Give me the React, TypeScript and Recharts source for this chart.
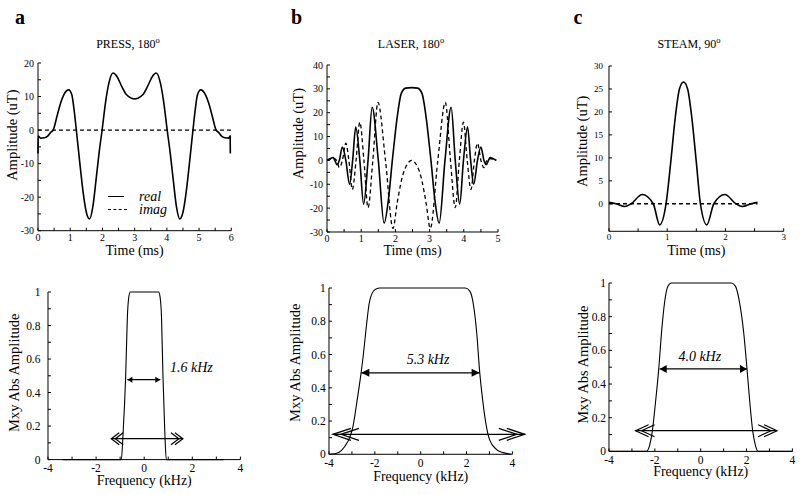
import { LineChart, Line, XAxis, YAxis, ReferenceLine, ReferenceDot, Legend } from 'recharts'
import type { ReactNode } from 'react'

type Pt = [number, number]

// ---- top row: RF pulse shapes (time in ms, amplitude in uT) ----
const pressReal: Pt[] = [
  [0, -7], [0.005, -1.8], [0.08, -2.4], [0.2, -2.3], [0.3, -1.8], [0.4, -0.6], [0.47, 0], [0.6, 4.5], [0.7, 8],
  [0.8, 10.5], [0.95, 12], [1.05, 10.5], [1.12, 6], [1.19, 0], [1.3, -10], [1.4, -18.5], [1.5, -24.5], [1.6, -26.5],
  [1.7, -23], [1.8, -15], [1.9, -6.5], [1.99, 0], [2.1, 8.5], [2.2, 14], [2.33, 17], [2.45, 16], [2.6, 13],
  [2.75, 10.5], [2.9, 9.5], [3.0, 9.3], [3.1, 9.5], [3.25, 10.5], [3.4, 13], [3.55, 16], [3.67, 17], [3.8, 14],
  [3.9, 8.5], [4.01, 0], [4.1, -6.5], [4.2, -15], [4.3, -23], [4.4, -26.5], [4.5, -24.5], [4.6, -18.5], [4.7, -10],
  [4.81, 0], [4.88, 6], [4.95, 10.5], [5.05, 12], [5.2, 10.5], [5.3, 8], [5.4, 4.5], [5.53, 0], [5.6, -0.6],
  [5.7, -1.8], [5.8, -2.3], [5.92, -2.4], [5.965, -1.8], [5.97, -7],
]
const pressImag: Pt[] = [[0, 0], [6, 0]]

const laserReal: Pt[] = [
  [0, 0], [0.1, 0.8], [0.18, 1.2], [0.23, 0], [0.29, -1.8], [0.36, 0], [0.45, 5.6], [0.55, 0], [0.66, -10],
  [0.75, 0], [0.84, 14], [0.96, 0], [1.07, -18.3], [1.2, 0], [1.32, 22.3], [1.5, 0], [1.67, -26.3], [1.8, -16],
  [1.91, 0], [2.0, 12], [2.08, 21], [2.17, 28], [2.3, 30.3], [2.475, 30.5], [2.65, 30.3], [2.78, 28], [2.87, 21],
  [2.95, 12], [3.04, 0], [3.15, -16], [3.28, -26.3], [3.45, 0], [3.63, 22.3], [3.75, 0], [3.88, -18.3], [3.99, 0],
  [4.11, 14], [4.2, 0], [4.29, -10], [4.4, 0], [4.5, 5.6], [4.59, 0], [4.66, -1.8], [4.72, 0], [4.77, 1.2],
  [4.85, 0.8], [4.95, 0],
]
const laserImag: Pt[] = [
  [0, 0], [0.2, 0.8], [0.28, 0], [0.36, -3], [0.45, 0], [0.55, 7.2], [0.64, 0], [0.74, -12.2], [0.85, 0],
  [0.96, 16], [1.08, 0], [1.2, -19.8], [1.34, 0], [1.49, 24.3], [1.71, 0], [1.93, -28.5], [2.05, -18], [2.2, -7],
  [2.35, -1.5], [2.475, 0], [2.6, -1.5], [2.75, -7], [2.9, -18], [3.02, -28.5], [3.24, 0], [3.46, 24.3], [3.61, 0],
  [3.75, -19.8], [3.87, 0], [3.99, 16], [4.1, 0], [4.21, -12.2], [4.31, 0], [4.4, 7.2], [4.5, 0], [4.59, -3],
  [4.67, 0], [4.75, 0.8], [4.95, 0],
]

const steamReal: Pt[] = [
  [0, 0.3], [0.12, 0], [0.27, -0.6], [0.38, 0], [0.57, 2], [0.76, 0], [0.87, -4.6], [0.98, 0], [1.06, 9],
  [1.14, 19], [1.21, 25], [1.28, 26.5], [1.35, 25], [1.42, 19], [1.5, 9], [1.57, 0], [1.68, -4.6], [1.8, 0],
  [1.99, 2], [2.18, 0], [2.29, -0.6], [2.44, 0], [2.55, 0.3],
]
const steamImag: Pt[] = [[0, 0], [2.55, 0]]

// ---- bottom row: slice profiles (frequency in kHz, |Mxy|) ----
const pressProfile: Pt[] = [
  [-3.4, 0], [-0.95, 0], [-0.88, 0.15], [-0.77, 0.5], [-0.7, 0.85], [-0.64, 0.97], [-0.58, 1], [0.6, 1],
  [0.66, 0.97], [0.72, 0.85], [0.78, 0.5], [0.86, 0.15], [0.92, 0], [3.3, 0],
]
const laserProfile: Pt[] = [
  [-3.95, 0], [-3.6, 0.01], [-3.3, 0.05], [-3.1, 0.1], [-2.95, 0.17], [-2.8, 0.3], [-2.6, 0.49], [-2.5, 0.6],
  [-2.37, 0.77], [-2.23, 0.92], [-2.0, 0.99], [-1.8, 1], [1.95, 1], [2.15, 0.98], [2.3, 0.9], [2.45, 0.72],
  [2.57, 0.5], [2.7, 0.33], [2.85, 0.18], [3.0, 0.09], [3.3, 0.03], [3.6, 0.01], [3.95, 0],
]
const steamProfile: Pt[] = [
  [-4, 0], [-2.37, 0], [-2.22, 0.04], [-2.11, 0.12], [-1.98, 0.28], [-1.83, 0.49], [-1.7, 0.72], [-1.57, 0.89],
  [-1.43, 0.98], [-1.28, 1], [1.34, 1], [1.52, 0.98], [1.7, 0.88], [1.88, 0.7], [2.02, 0.49], [2.15, 0.28],
  [2.27, 0.12], [2.38, 0.04], [2.5, 0], [4, 0],
]

// bandwidth arrows (endpoints) and the text notes
const pressFwhm: Pt[] = [[-0.7, 0.477], [0.67, 0.477]]
const pressSpan: Pt[] = [[-1.37, 0.125], [1.61, 0.125]]
const laserFwhm: Pt[] = [[-2.59, 0.49], [2.57, 0.49]]
const laserSpan: Pt[] = [[-3.83, 0.12], [4.54, 0.12]]
const steamFwhm: Pt[] = [[-1.79, 0.49], [2.02, 0.49]]
const steamSpan: Pt[] = [[-2.84, 0.123], [3.33, 0.123]]
const notePos: Pt[] = [[1.96, 0.55], [0.32, 0.575], [-0.04, 0.568]]
const noteText = ['1.6 kHz', '5.3 kHz', '4.0 kHz']
const legendOrder = ['real', 'imag']

// ---- ticks ----
const time6Ticks = [0, 0.5, 1, 1.5, 2, 2.5, 3, 3.5, 4, 4.5, 5, 5.5, 6]
const time6Major = [0, 1, 2, 3, 4, 5, 6]
const time5Ticks = [0, 0.5, 1, 1.5, 2, 2.5, 3, 3.5, 4, 4.5, 5]
const time5Major = [0, 1, 2, 3, 4, 5]
const time3Ticks = [0, 0.5, 1, 1.5, 2, 2.5, 3]
const time3Major = [0, 1, 2, 3]
const ampTicksA = [-30, -25, -20, -15, -10, -5, 0, 5, 10, 15, 20]
const ampMajorA = [-30, -20, -10, 0, 10, 20]
const ampTicksB = [-30, -25, -20, -15, -10, -5, 0, 5, 10, 15, 20, 25, 30, 35, 40]
const ampMajorB = [-30, -20, -10, 0, 10, 20, 30, 40]
const ampTicksC = [0, 5, 10, 15, 20, 25, 30]
const freqTicks = [-4, -3, -2, -1, 0, 1, 2, 3, 4]
const freqMajor = [-4, -2, 0, 2, 4]
const magTicks = [0, 0.1, 0.2, 0.3, 0.4, 0.5, 0.6, 0.7, 0.8, 0.9, 1]
const magMajor = [0, 0.2, 0.4, 0.6, 0.8, 1]

const SERIF = "'Liberation Serif', 'Times New Roman', serif"
const YW = 50
const MT = 10
const LABEL_PAD = 8

const rows = (pts: Pt[]) => pts.map(([t, v]) => ({ t, v }))
const only = (majors: number[]) => (v: number) => (majors.includes(v) ? String(v) : '')

interface Box { x: number; y: number; w: number; h: number; xh: number; mr: number }

function Panel(props: {
  box: Box; xDomain: [number, number]; yDomain: [number, number]
  xTicks: number[]; xMajor: number[]; yTicks: number[]; yMajor: number[]
  xLabel: string; yLabel: string; yLabelAt: Pt; tickFont: number; xTickGap: number; yTickGap: number
  children: ReactNode
}) {
  const { box } = props
  const left = box.x - YW
  const top = box.y - MT
  const lx = props.yLabelAt[0] - left
  const ly = props.yLabelAt[1] - top
  const xh = box.xh + LABEL_PAD
  const tickStyle = { fill: '#000', fontSize: props.tickFont, fontFamily: SERIF }
  return (
    <div style={{ position: 'absolute', left, top }}>
      <LineChart width={YW + box.w + box.mr} height={MT + box.h + xh}
        margin={{ top: MT, right: box.mr, bottom: 0, left: 0 }}>
        <XAxis type="number" dataKey="t" domain={props.xDomain} ticks={props.xTicks} interval={0}
          tickFormatter={only(props.xMajor)} tickSize={-3} tickMargin={props.xTickGap} height={xh}
          axisLine={{ stroke: '#000' }} tickLine={{ stroke: '#000' }} tick={tickStyle}
          label={{ value: props.xLabel, position: 'insideBottom', offset: LABEL_PAD, fill: '#000',
            style: { fontSize: 14, fontFamily: SERIF } }} />
        <YAxis type="number" domain={props.yDomain} ticks={props.yTicks} interval={0}
          tickFormatter={only(props.yMajor)} tickSize={-3} tickMargin={props.yTickGap} width={YW}
          axisLine={{ stroke: '#000' }} tickLine={{ stroke: '#000' }} tick={tickStyle}
          label={{
            content: () => (
              <text x={lx} y={ly} transform={`rotate(-90 ${lx} ${ly})`} textAnchor="middle"
                dominantBaseline="central" fill="#000" style={{ fontSize: 14.5, fontFamily: SERIF }}>
                {props.yLabel}
              </text>
            ),
          }} />
        {props.children}
      </LineChart>
    </div>
  )
}

const headShape = (dir: number, len: number, half: number) => (p: any) => (
  <path d={`M${p.cx},${p.cy} L${p.cx - dir * len},${p.cy - half} L${p.cx - dir * len},${p.cy + half} Z`} fill="#000" />
)
const chevronShape = (dir: number, len: number, half: number, gap: number) => (p: any) => (
  <g fill="none" stroke="#000" strokeWidth={1.2}>
    {[0, gap].map((o) => (
      <polyline key={o}
        points={`${p.cx - dir * (o + len)},${p.cy - half} ${p.cx - dir * o},${p.cy} ${p.cx - dir * (o + len)},${p.cy + half}`} />
    ))}
  </g>
)

function arrows(fwhm: Pt[], span: Pt[], head: [number, number], chev: [number, number, number], note: Pt, text: string) {
  return [
    <ReferenceLine key="f" segment={fwhm.map(([x, y]) => ({ x, y }))} stroke="#000" strokeWidth={1.3} ifOverflow="visible" />,
    <ReferenceDot key="f0" x={fwhm[0][0]} y={fwhm[0][1]} r={0} ifOverflow="visible" shape={headShape(-1, head[0], head[1])} />,
    <ReferenceDot key="f1" x={fwhm[1][0]} y={fwhm[1][1]} r={0} ifOverflow="visible" shape={headShape(1, head[0], head[1])} />,
    <ReferenceLine key="s" segment={span.map(([x, y]) => ({ x, y }))} stroke="#000" strokeWidth={1.3} ifOverflow="visible" />,
    <ReferenceDot key="s0" x={span[0][0]} y={span[0][1]} r={0} ifOverflow="visible" shape={chevronShape(-1, chev[0], chev[1], chev[2])} />,
    <ReferenceDot key="s1" x={span[1][0]} y={span[1][1]} r={0} ifOverflow="visible" shape={chevronShape(1, chev[0], chev[1], chev[2])} />,
    <ReferenceDot key="n" x={note[0]} y={note[1]} r={0} fill="none" stroke="none" ifOverflow="visible"
      label={{ value: text, position: 'center', fill: '#000', style: { fontSize: 14, fontStyle: 'italic', fontFamily: SERIF } }} />,
  ]
}

// legend rows: sample line (x 0..16/19) then italic name starting 31px to the right
const renderLegend = (props: any) => {
  const items = [...(props.payload ?? [])].sort(
    (a: any, b: any) => legendOrder.indexOf(a.value) - legendOrder.indexOf(b.value))
  return (
    <div style={{ position: 'relative', width: 70, height: 27, fontFamily: SERIF, fontStyle: 'italic', fontSize: 14 }}>
      {items.map((e: any, i: number) => (
        <div key={e.value}>
          <div style={{ position: 'absolute', left: 0, top: i * 13.5 + 6, width: e.value === 'real' ? 16 : 19,
            borderTop: `1.4px ${e.value === 'real' ? 'solid' : 'dashed'} #000` }} />
          <div style={{ position: 'absolute', left: 31, top: i * 13.5 - 1, lineHeight: '15px', whiteSpace: 'nowrap' }}>
            {e.value}
          </div>
        </div>
      ))}
    </div>
  )
}

const solid = { stroke: '#000', strokeWidth: 1.6, dot: false, activeDot: false, isAnimationActive: false, type: 'monotone' as const }
const dashed = { ...solid, strokeWidth: 1.3, strokeDasharray: '4 3' }
const thin = { ...solid, strokeWidth: 1.1 }

const boxTA: Box = { x: 37.7, y: 63.3, w: 193.3, h: 167.7, xh: 24, mr: 10 }
const boxTB: Box = { x: 327.4, y: 65.3, w: 171, h: 167, xh: 22.7, mr: 10 }
const boxTC: Box = { x: 609.3, y: 65.7, w: 174.7, h: 165.3, xh: 24, mr: 10 }
const boxBA: Box = { x: 48.3, y: 291.7, w: 192.4, h: 167.6, xh: 25, mr: 50 }
const boxBB: Box = { x: 329.3, y: 287.7, w: 183.4, h: 166.3, xh: 26.5, mr: 50 }
const boxBC: Box = { x: 609.3, y: 283.3, w: 183.4, h: 168.4, xh: 24.7, mr: 50 }

export default function App() {
  return (
    <div style={{ position: 'absolute', left: 0, top: 0, width: 800, height: 495, background: '#fff', fontFamily: SERIF, overflow: 'hidden' }}>
      <style>{`svg text { font-family: ${SERIF}; }`}</style>
      <Panel box={boxTA} xDomain={[0, 6]} yDomain={[-30, 20]} xTicks={time6Ticks} xMajor={time6Major}
        yTicks={ampTicksA} yMajor={ampMajorA} xLabel="Time (ms)" yLabel="Amplitude (uT)" yLabelAt={[12, 135.5]}
        tickFont={10} xTickGap={6} yTickGap={7}>
        <Line data={rows(pressReal)} dataKey="v" name="real" {...solid} />
        <Line data={rows(pressImag)} dataKey="v" name="imag" {...dashed} />
        <Legend layout="vertical" align="center" verticalAlign="middle" content={renderLegend}
          wrapperStyle={{ left: 108 - (boxTA.x - YW), top: 190 - (boxTA.y - MT), width: 70 }} />
      </Panel>
      <Panel box={boxTB} xDomain={[0, 5]} yDomain={[-30, 40]} xTicks={time5Ticks} xMajor={time5Major}
        yTicks={ampTicksB} yMajor={ampMajorB} xLabel="Time (ms)" yLabel="Amplitude (uT)" yLabelAt={[298, 134]}
        tickFont={10} xTickGap={5.5} yTickGap={7}>
        <Line data={rows(laserReal)} dataKey="v" {...solid} />
        <Line data={rows(laserImag)} dataKey="v" {...dashed} />
      </Panel>
      <Panel box={boxTC} xDomain={[0, 3]} yDomain={[-6, 30]} xTicks={time3Ticks} xMajor={time3Major}
        yTicks={ampTicksC} yMajor={ampTicksC} xLabel="Time (ms)" yLabel="Amplitude (uT)" yLabelAt={[582, 141]}
        tickFont={9} xTickGap={5.5} yTickGap={9}>
        <Line data={rows(steamReal)} dataKey="v" {...solid} />
        <Line data={rows(steamImag)} dataKey="v" {...dashed} />
      </Panel>
      <Panel box={boxBA} xDomain={[-4, 4]} yDomain={[0, 1]} xTicks={freqTicks} xMajor={freqMajor}
        yTicks={magTicks} yMajor={magMajor} xLabel="Frequency (kHz)" yLabel="Mxy Abs Amplitude" yLabelAt={[14, 372.5]}
        tickFont={11.5} xTickGap={7.5} yTickGap={10.5}>
        <Line data={rows(pressProfile)} dataKey="v" {...thin} />
        {arrows(pressFwhm, pressSpan, [5, 3], [8, 6, 4], notePos[0], noteText[0])}
      </Panel>
      <Panel box={boxBB} xDomain={[-4, 4]} yDomain={[0, 1]} xTicks={freqTicks} xMajor={freqMajor}
        yTicks={magTicks} yMajor={magMajor} xLabel="Frequency (kHz)" yLabel="Mxy Abs Amplitude" yLabelAt={[295.5, 362.5]}
        tickFont={11.5} xTickGap={7.5} yTickGap={6.3}>
        <Line data={rows(laserProfile)} dataKey="v" {...thin} />
        {arrows(laserFwhm, laserSpan, [8, 4], [18, 6, 8], notePos[1], noteText[1])}
      </Panel>
      <Panel box={boxBC} xDomain={[-4, 4]} yDomain={[0, 1]} xTicks={freqTicks} xMajor={freqMajor}
        yTicks={magTicks} yMajor={magMajor} xLabel="Frequency (kHz)" yLabel="Mxy Abs Amplitude" yLabelAt={[583.5, 365]}
        tickFont={11.5} xTickGap={7} yTickGap={6}>
        <Line data={rows(steamProfile)} dataKey="v" {...thin} />
        {arrows(steamFwhm, steamSpan, [7, 4], [13, 6, 6], notePos[2], noteText[2])}
      </Panel>
      <svg width={800} height={495} style={{ position: 'absolute', left: 0, top: 0, pointerEvents: 'none' }}
        fontFamily={SERIF} fill="#000">
        <text x={20} y={23.5} fontSize={20} fontWeight="bold" textAnchor="middle">a</text>
        <text x={296.5} y={24} fontSize={20} fontWeight="bold" textAnchor="middle">b</text>
        <text x={578} y={23.5} fontSize={20} fontWeight="bold" textAnchor="middle">c</text>
        <text x={128} y={48} fontSize={12} textAnchor="middle">PRESS, 180<tspan dy={-5} fontSize={8.5}>o</tspan></text>
        <text x={411} y={48} fontSize={12} textAnchor="middle">LASER, 180<tspan dy={-5} fontSize={8.5}>o</tspan></text>
        <text x={689} y={48} fontSize={12} textAnchor="middle">STEAM, 90<tspan dy={-5} fontSize={8.5}>o</tspan></text>
      </svg>
    </div>
  )
}
